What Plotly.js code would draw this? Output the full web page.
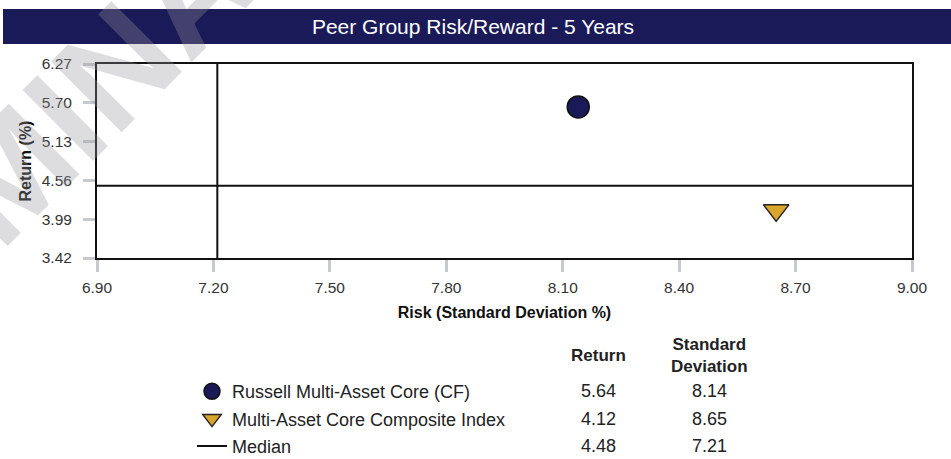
<!DOCTYPE html>
<html>
<head>
<meta charset="utf-8">
<script src="https://cdn.plot.ly/plotly-3.0.1.min.js"></script>
<style>html,body{margin:0;padding:0;background:#fff;}#chart{width:951px;height:459px;}</style>
</head>
<body>
<div id="chart"></div>
<script>
// ---- data ----
const seriesNames = ['Russell Multi-Asset Core (CF)', 'Multi-Asset Core Composite Index', 'Median'];
const returns = [5.64, 4.12, 4.48];
const stdDevs = [8.14, 8.65, 7.21];
const xTickVals = [6.90, 7.20, 7.50, 7.80, 8.10, 8.40, 8.70, 9.00];
const yTickVals = [3.42, 3.99, 4.56, 5.13, 5.70, 6.27];
const tableHeaders = ['Return', 'Standard<br>Deviation'];

// ---- styling ----
const NAVY = '#1b1a58';
const GOLD = '#d9a52a';
const FONT = 'Liberation Sans, Arial, sans-serif';
const xMin = Math.min(...xTickVals), xMax = Math.max(...xTickVals);
const yMin = Math.min(...yTickVals), yMax = Math.max(...yTickVals);

const fund = {
  type: 'scatter', mode: 'markers', name: seriesNames[0],
  x: [stdDevs[0]], y: [returns[0]],
  marker: {symbol: 'circle', size: 22, color: NAVY, line: {color: '#111', width: 1.5}},
  legendrank: 1, legendgroup: 'a'
};
const index = {
  type: 'scatter', mode: 'markers', name: seriesNames[1],
  x: [stdDevs[1]], y: [returns[1]],
  marker: {symbol: 'triangle-down', size: 22, color: GOLD, line: {color: '#222', width: 1.5}},
  legendrank: 2, legendgroup: 'b'
};
const median = {
  type: 'scatter', mode: 'lines', name: seriesNames[2],
  x: [stdDevs[2], stdDevs[2], null, xMin, xMax],
  y: [yMin, yMax, null, returns[2], returns[2]],
  line: {color: '#111', width: 2},
  legendrank: 3, legendgroup: 'c'
};

const px2x = p => (p - 97) / 815;
const px2y = p => (258 - p) / 194;

const annotations = [];
// watermark
annotations.push({
  text: 'PRELIMINARY', xref: 'paper', yref: 'paper', x: px2x(15), y: px2y(168),
  xanchor: 'center', yanchor: 'middle', showarrow: false, textangle: -45,
  font: {family: FONT, size: 145, weight: 'bold', color: 'rgba(150,150,155,0.32)'}
});
// table headers
const colX = [598, 709];
tableHeaders.forEach((h, i) => annotations.push({
  text: '<b>' + h + '</b>', xref: 'paper', yref: 'paper', x: px2x(colX[i]), y: px2y(355),
  xanchor: 'center', yanchor: 'middle', showarrow: false,
  font: {family: FONT, size: 17, color: '#222'}
}));
// table values
const rowY = [391, 419, 446];
seriesNames.forEach((n, i) => {
  [returns[i], stdDevs[i]].forEach((v, j) => annotations.push({
    text: v.toFixed(2), xref: 'paper', yref: 'paper', x: px2x(colX[j]), y: px2y(rowY[i]),
    xanchor: 'center', yanchor: 'middle', showarrow: false,
    font: {family: FONT, size: 18, color: '#222'}
  }));
});

const layout = {
  width: 951, height: 459,
  margin: {l: 97, r: 39, t: 64, b: 201, pad: 0, autoexpand: false},
  paper_bgcolor: '#fff', plot_bgcolor: '#fff',
  font: {family: FONT, color: '#333'},
  title: {
    text: 'Peer Group Risk/Reward - 5 Years', xref: 'container', yref: 'container',
    x: 473 / 951, y: 1 - 27 / 459, xanchor: 'center', yanchor: 'middle',
    font: {family: FONT, size: 21, color: '#fff'}
  },
  xaxis: {
    range: [xMin, xMax], tickvals: xTickVals, ticktext: xTickVals.map(v => v.toFixed(2)),
    showgrid: false, zeroline: false, showline: true, mirror: true, linecolor: '#111', linewidth: 2,
    ticks: 'outside', ticklen: 12, tickwidth: 3, tickcolor: '#c6cacf', ticklabelstandoff: 2,
    tickfont: {family: FONT, size: 15.5, color: '#333'},
    title: {text: '<b>Risk (Standard Deviation %)</b>', standoff: 12, font: {family: FONT, size: 16, color: '#111'}},
    automargin: false, fixedrange: true
  },
  yaxis: {
    range: [yMin, yMax], tickvals: yTickVals, ticktext: yTickVals.map(v => v.toFixed(2)),
    showgrid: false, zeroline: false, showline: true, mirror: true, linecolor: '#111', linewidth: 2,
    ticks: 'outside', ticklen: 12, tickwidth: 3, tickcolor: '#c6cacf', ticklabelstandoff: 8,
    tickfont: {family: FONT, size: 15.5, color: '#333'},
    title: {text: '<b>Return (%)</b>', standoff: 6, font: {family: FONT, size: 16, color: '#111'}},
    automargin: false, fixedrange: true
  },
  showlegend: true,
  legend: {
    x: px2x(192), y: px2y(373), xanchor: 'left', yanchor: 'top',
    bgcolor: 'rgba(0,0,0,0)', borderwidth: 0, tracegroupgap: 1,
    font: {family: FONT, size: 18, color: '#222'}
  },
  shapes: [{
    type: 'rect', xref: 'paper', yref: 'paper', layer: 'below',
    x0: px2x(3), x1: px2x(951), y0: px2y(44), y1: px2y(9),
    fillcolor: NAVY, line: {width: 0}
  }],
  annotations: annotations
};

Plotly.newPlot('chart', [median, fund, index], layout, {staticPlot: true, displayModeBar: false});
</script>
</body>
</html>
